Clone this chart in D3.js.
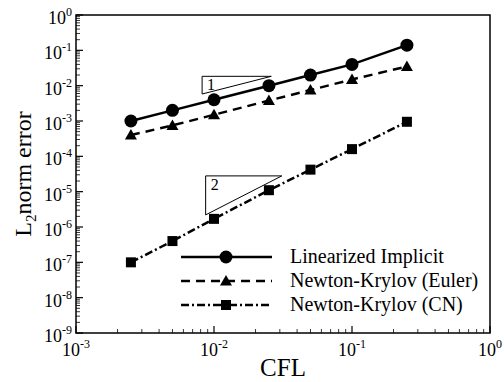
<!DOCTYPE html>
<html><head><meta charset="utf-8">
<script src="https://cdn.jsdelivr.net/npm/d3@7"></script>
<style>
html,body{margin:0;padding:0;background:#fff;}
svg{display:block;font-family:"Liberation Serif","Times New Roman",serif;}
</style></head>
<body><svg id="c" width="504" height="382"></svg>
<script>
const cfl = [0.0025, 0.005, 0.01, 0.025, 0.05, 0.1, 0.25];
const linImplicit = [1e-3, 2e-3, 4e-3, 1e-2, 2e-2, 4e-2, 1.4e-1];
const nkEuler = [4e-4, 7.5e-4, 1.5e-3, 3.8e-3, 7.5e-3, 1.5e-2, 3.5e-2];
const nkCN = [1e-7, 4e-7, 1.7e-6, 1.1e-5, 4.2e-5, 1.6e-4, 9.5e-4];
const seriesNames = ["Linearized Implicit", "Newton-Krylov (Euler)", "Newton-Krylov (CN)"];
const xTickExps = [-3, -2, -1, 0];
const yTickExps = [0, -1, -2, -3, -4, -5, -6, -7, -8, -9];
const slope1 = {x0: 0.0082, x1: 0.026, yb: 0.0058, order: 1, label: "1"};
const slope2 = {x0: 0.0087, x1: 0.031, yb: 2.2e-6, order: 2, label: "2"};

const svg = d3.select("#c");
const L = 76, R = 490, T = 15, B = 333;
const x = d3.scaleLog().domain([1e-3, 1]).range([L, R]);
const y = d3.scaleLog().domain([1e-9, 1]).range([B, T]);

// minor ticks
const g = svg.append("g");
function minorVals(lo, hi) {
  const v = [];
  for (let e = lo; e < hi; e++) for (let k = 2; k <= 9; k++) v.push(k * Math.pow(10, e));
  return v;
}
minorVals(-3, 0).forEach(v => g.append("line").attr("x1", x(v)).attr("x2", x(v)).attr("y1", B).attr("y2", B - 4).attr("stroke", "#000").attr("stroke-width", 0.8));
minorVals(-9, 0).forEach(v => g.append("line").attr("y1", y(v)).attr("y2", y(v)).attr("x1", L).attr("x2", L + 4).attr("stroke", "#000").attr("stroke-width", 0.8));
xTickExps.forEach(e => g.append("line").attr("x1", x(Math.pow(10, e))).attr("x2", x(Math.pow(10, e))).attr("y1", B).attr("y2", B - 7).attr("stroke", "#000").attr("stroke-width", 1.2));
yTickExps.forEach(e => g.append("line").attr("y1", y(Math.pow(10, e))).attr("y2", y(Math.pow(10, e))).attr("x1", L).attr("x2", L + 7).attr("stroke", "#000").attr("stroke-width", 1.2));

// frame
svg.append("rect").attr("x", L).attr("y", T).attr("width", R - L).attr("height", B - T)
  .attr("fill", "none").attr("stroke", "#000").attr("stroke-width", 1.5);

// tick labels
xTickExps.forEach(e => {
  const t = svg.append("text").attr("x", x(Math.pow(10, e))).attr("y", 356).attr("text-anchor", "middle").attr("font-size", 18);
  t.append("tspan").text("10");
  t.append("tspan").attr("dy", -8).attr("font-size", 12).text(e);
});
yTickExps.forEach(e => {
  const t = svg.append("text").attr("x", 72).attr("y", y(Math.pow(10, e)) + 9).attr("text-anchor", "end").attr("font-size", 18);
  t.append("tspan").text("10");
  t.append("tspan").attr("dy", -8).attr("font-size", 12).text(e);
});

// axis titles
svg.append("text").attr("x", (L + R) / 2).attr("y", 376).attr("text-anchor", "middle").attr("font-size", 25).text("CFL");
const yl = svg.append("text").attr("transform", `translate(31,${(T + B) / 2}) rotate(-90)`).attr("text-anchor", "middle").attr("font-size", 24);
yl.append("tspan").text("L");
yl.append("tspan").attr("dy", 5).attr("font-size", 15).text("2");
yl.append("tspan").attr("dy", -5).text("norm error");

// slope triangles
[slope1, slope2].forEach(s => {
  const yt = s.yb * Math.pow(s.x1 / s.x0, s.order);
  const pts = [[x(s.x0), y(s.yb)], [x(s.x0), y(yt)], [x(s.x1), y(yt)]];
  svg.append("path").attr("d", d3.line()(pts) + "Z").attr("fill", "none").attr("stroke", "#000").attr("stroke-width", 1);
  svg.append("text").attr("x", x(s.x0) + 5).attr("y", y(yt) + 14).attr("font-size", 16).text(s.label);
});

// series
const styles = [
  {vals: linImplicit, dash: null, marker: "circle"},
  {vals: nkEuler, dash: "9,6", marker: "triangle"},
  {vals: nkCN, dash: "8,3,2,3", marker: "square"}
];
function drawMarker(sel, type, cx, cy) {
  if (type === "circle") sel.append("circle").attr("cx", cx).attr("cy", cy).attr("r", 6.5).attr("fill", "#000");
  else if (type === "triangle") sel.append("path").attr("d", `M${cx},${cy - 6}L${cx + 6},${cy + 4.5}L${cx - 6},${cy + 4.5}Z`).attr("fill", "#000");
  else sel.append("rect").attr("x", cx - 5).attr("y", cy - 5).attr("width", 10).attr("height", 10).attr("fill", "#000");
}
const line = d3.line().x(d => x(d[0])).y(d => y(d[1]));
styles.forEach(st => {
  const data = cfl.map((c, i) => [c, st.vals[i]]);
  svg.append("path").datum(data).attr("d", line).attr("fill", "none").attr("stroke", "#000")
    .attr("stroke-width", 2.5).attr("stroke-dasharray", st.dash);
  data.forEach(d => drawMarker(svg, st.marker, x(d[0]), y(d[1])));
});

// legend
const legY = [257, 281, 305];
styles.forEach((st, i) => {
  svg.append("line").attr("x1", 181).attr("x2", 272).attr("y1", legY[i]).attr("y2", legY[i])
    .attr("stroke", "#000").attr("stroke-width", 2.5).attr("stroke-dasharray", st.dash);
  drawMarker(svg, st.marker, 226, legY[i]);
  svg.append("text").attr("x", 290).attr("y", legY[i] + 6).attr("font-size", 20).text(seriesNames[i]);
});
</script></body></html>
